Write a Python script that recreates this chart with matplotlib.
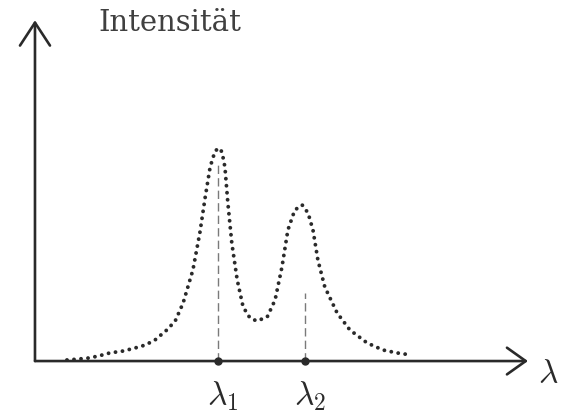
import matplotlib
matplotlib.use("Agg")
import matplotlib.pyplot as plt

# wavelength (arbitrary units) and intensity (peak 1 = 1.0)
wavelength = [0.65, 0.87, 1.08, 1.28, 1.52, 1.79, 2.03, 2.24, 2.44, 2.68, 2.85, 3.01,
              3.21, 3.35, 3.46, 3.56, 3.66, 3.74, 3.80, 3.86, 3.92, 4.00, 4.11, 4.23,
              4.37, 4.51, 4.72, 4.88, 5.02, 5.14, 5.28, 5.43, 5.55, 5.65, 5.75, 5.89,
              6.14, 6.40, 6.75, 7.07, 7.36, 7.66]
intensity = [0.005, 0.009, 0.014, 0.023, 0.038, 0.047, 0.061, 0.075, 0.099, 0.146, 0.188, 0.272,
             0.428, 0.601, 0.770, 0.911, 0.986, 1.000, 0.982, 0.911, 0.742, 0.554, 0.381, 0.254,
             0.202, 0.188, 0.207, 0.287, 0.442, 0.615, 0.709, 0.733, 0.695, 0.615, 0.474, 0.348,
             0.226, 0.146, 0.085, 0.052, 0.038, 0.028]
peak_positions = [3.72, 5.49]
peak_labels = [r"$\lambda_1$", r"$\lambda_2$"]
dash_tops = [0.93, 0.32]
y_label = "Intensität"
x_label = r"$\lambda$"

plt.rcParams["mathtext.fontset"] = "cm"
fig = plt.figure(figsize=(5.74, 4.16), dpi=100)
ax = fig.add_axes([0, 0, 1, 1])
ax.set_xlim(-0.711, 10.955)
ax.set_ylim(-0.258, 1.695)
ax.axis("off")

ink = "#2a2a2a"
# axes with open arrow heads
ax.annotate("", xy=(10.02, 0), xytext=(0, 0),
            arrowprops=dict(arrowstyle="->,head_length=0.45,head_width=0.32",
                            mutation_scale=30, lw=1.9, color=ink, shrinkA=0, shrinkB=0))
ax.annotate("", xy=(0, 1.60), xytext=(0, 0),
            arrowprops=dict(arrowstyle="->,head_length=0.55,head_width=0.36",
                            mutation_scale=30, lw=1.9, color=ink, shrinkA=0, shrinkB=0))

# dashed markers at the peaks
for p, top in zip(peak_positions, dash_tops):
    ax.plot([p, p], [0, top], color="#7a7a7a", lw=1.0, ls=(0, (6, 3)))
    ax.plot([p], [0], marker="o", ms=5, color=ink)

# dotted spectrum
ax.plot(wavelength, intensity, color=ink, lw=2.8, ls=(0, (0.01, 1.8)),
        dash_capstyle="round", solid_capstyle="round")

# labels
ax.text(2.75, 1.585, y_label, ha="center", va="center", fontsize=21,
        family="DejaVu Serif", color="#404040")
ax.text(10.43, -0.058, x_label, ha="center", va="center", fontsize=24, color=ink)
for p, lab in zip(peak_positions, peak_labels):
    ax.text(p + 0.1, -0.165, lab, ha="center", va="center", fontsize=24, color=ink)

fig.savefig("out.png", dpi=100, facecolor="white")
